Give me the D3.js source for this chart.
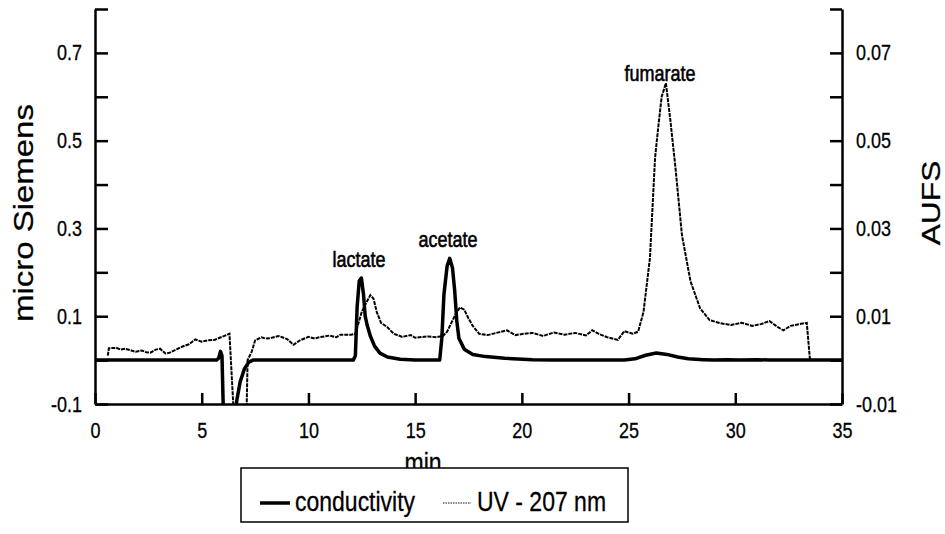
<!DOCTYPE html>
<html>
<head>
<meta charset="utf-8">
<script src="https://cdn.jsdelivr.net/npm/d3@7"></script>
<style>
  body { margin: 0; background: #fff; }
  svg { font-family: "Liberation Sans", Arial, sans-serif; }
  text { fill: #000; stroke: #000; stroke-width: 0.25px; }
</style>
</head>
<body>
<svg id="chart" width="945" height="534"></svg>
<script>
const width = 945;
const height = 534;

// conductivity trace, [min, micro Siemens]
const conductivity = [
  [0, 0], [5.7, 0], [5.8, 0.005], [5.88, 0.02], [5.95, 0.01], [6.02, -0.13],
  [6.55, -0.13], [6.65, -0.09], [6.8, -0.05], [7.0, -0.02], [7.2, -0.005], [7.4, 0],
  [12.1, 0], [12.2, 0.01], [12.28, 0.12], [12.38, 0.18], [12.48, 0.187], [12.58, 0.15],
  [12.66, 0.1], [12.75, 0.08], [12.9, 0.055], [13.1, 0.032], [13.35, 0.016],
  [13.7, 0.007], [14.3, 0.002], [15, 0],
  [16.15, 0], [16.25, 0.05], [16.35, 0.15], [16.5, 0.215], [16.62, 0.232], [16.75, 0.21],
  [16.85, 0.16], [16.95, 0.09], [17.05, 0.05], [17.3, 0.025], [17.7, 0.013],
  [18.3, 0.008], [19.2, 0.004], [20.5, 0.001], [21.5, 0],
  [24.8, 0], [25.3, 0.003], [25.8, 0.011], [26.3, 0.016], [26.8, 0.013], [27.3, 0.007],
  [27.8, 0.003], [28.5, 0.001], [29, 0], [29.6, 0.001], [30.2, 0], [31, 0.001], [31.6, 0], [35, 0]
];

// UV 207 nm trace, [min, AUFS]
const uv = [
  [0.6, 0.001], [0.65, 0.0027], [1.0, 0.0028], [1.2, 0.0024], [1.4, 0.0026], [1.7, 0.0022],
  [1.9, 0.0019], [2.2, 0.0022], [2.4, 0.0018], [2.6, 0.0017], [2.85, 0.0024], [3.05, 0.0026],
  [3.3, 0.0015], [3.5, 0.0017], [3.8, 0.0024], [4.1, 0.0031], [4.4, 0.0036], [4.7, 0.0047],
  [5.0, 0.0042], [5.3, 0.0045], [5.6, 0.0046], [5.9, 0.0052], [6.2, 0.0058], [6.3, 0.006],
  [6.5, -0.012], [7.1, -0.012], [7.15, 0.0], [7.35, 0.002], [7.5, 0.0045], [7.8, 0.0052],
  [8.0, 0.0049], [8.2, 0.005], [8.6, 0.0055], [9.0, 0.0048], [9.3, 0.0035], [9.6, 0.0045],
  [10.0, 0.0053], [10.3, 0.0049], [10.5, 0.0052], [11.0, 0.0056], [11.3, 0.0052], [11.5, 0.0058],
  [12.0, 0.0058], [12.2, 0.006], [12.35, 0.0085], [12.5, 0.011], [12.7, 0.013], [12.9, 0.0148],
  [13.05, 0.014], [13.2, 0.011], [13.4, 0.0085], [13.7, 0.0075], [14.0, 0.006], [14.4, 0.0053],
  [14.8, 0.0057], [15.0, 0.0051], [15.2, 0.0052], [15.6, 0.0054], [16.0, 0.0052], [16.3, 0.0055],
  [16.5, 0.0065], [16.7, 0.0085], [16.9, 0.0105], [17.1, 0.012], [17.3, 0.0115], [17.5, 0.0095],
  [17.7, 0.0078], [18.0, 0.006], [18.4, 0.0057], [18.8, 0.0062], [19.3, 0.0068], [19.7, 0.0057],
  [20.1, 0.006], [20.5, 0.0062], [21.0, 0.0055], [21.5, 0.0063], [22.0, 0.0058], [22.5, 0.0062],
  [23.0, 0.0056], [23.3, 0.0068], [23.6, 0.006], [24.0, 0.0052], [24.5, 0.0046], [24.8, 0.0066],
  [25.2, 0.006], [25.45, 0.0065], [25.7, 0.011], [26.0, 0.0232], [26.24, 0.046], [26.4, 0.0535],
  [26.55, 0.06], [26.75, 0.0631], [26.95, 0.055], [27.2, 0.0437], [27.5, 0.0285], [27.9, 0.018],
  [28.35, 0.0118], [28.8, 0.0091], [29.3, 0.0084], [29.8, 0.008], [30.3, 0.0085], [30.8, 0.0078],
  [31.2, 0.0082], [31.6, 0.0089], [32.0, 0.0075], [32.25, 0.0068], [32.6, 0.0078], [33.0, 0.0082],
  [33.35, 0.0085], [33.5, 0.0]
];

const xTicks = [0, 5, 10, 15, 20, 25, 30, 35];
const leftTicks = [-0.1, 0, 0.1, 0.2, 0.3, 0.4, 0.5, 0.6, 0.7, 0.8];
const leftLabels = ["-0.1", "", "0.1", "", "0.3", "", "0.5", "", "0.7", ""];
const rightTicks = [-0.01, 0, 0.01, 0.02, 0.03, 0.04, 0.05, 0.06, 0.07, 0.08];
const rightLabels = ["-0.01", "", "0.01", "", "0.03", "", "0.05", "", "0.07", ""];

const peaks = [
  { name: "lactate", t: 12.37, v: 0.212, axis: "left" },
  { name: "acetate", t: 16.54, v: 0.258, axis: "left" },
  { name: "fumarate", t: 26.47, v: 0.0636, axis: "right" }
];

const stretch = 1.22; // the scanned figure's text is taller than it is wide

const svg = d3.select("#chart");

const x = d3.scaleLinear().domain([0, 35]).range([95, 842]);
const yL = d3.scaleLinear().domain([-0.1, 0.8]).range([404, 9]);
const yR = d3.scaleLinear().domain([-0.01, 0.08]).range([404, 9]);

// move x/y of a text into a transform so it can be stretched
function tallText(sel) {
  sel.each(function () {
    const t = d3.select(this);
    const tx = +t.attr("x") || 0;
    const ty = +t.attr("y") || 0;
    t.attr("x", 0).attr("y", 0)
      .attr("transform", `translate(${tx},${ty}) scale(1,${stretch})`);
  });
}

svg.append("defs").append("clipPath").attr("id", "plot")
  .append("rect").attr("x", 95).attr("y", 9).attr("width", 747).attr("height", 395);

const plot = svg.append("g").attr("clip-path", "url(#plot)");

// UV line (dotted)
plot.append("path")
  .datum(uv)
  .attr("fill", "none")
  .attr("stroke", "#000")
  .attr("stroke-width", 2)
  .attr("stroke-dasharray", "4,1")
  .attr("d", d3.line().x(d => x(d[0])).y(d => yR(d[1])));

// conductivity line (thick)
plot.append("path")
  .datum(conductivity)
  .attr("fill", "none")
  .attr("stroke", "#000")
  .attr("stroke-width", 3.5)
  .attr("stroke-linejoin", "round")
  .attr("d", d3.line().x(d => x(d[0])).y(d => yL(d[1])));

// axes
const leftAxis = svg.append("g")
  .attr("transform", "translate(95,0)")
  .call(d3.axisLeft(yL).tickValues(leftTicks).tickSize(-13).tickSizeOuter(0).tickPadding(13)
    .tickFormat((d, i) => leftLabels[i]));

const rightAxis = svg.append("g")
  .attr("transform", "translate(842,0)")
  .call(d3.axisRight(yR).tickValues(rightTicks).tickSize(-12).tickSizeOuter(0).tickPadding(14)
    .tickFormat((d, i) => rightLabels[i]));

const bottomAxis = svg.append("g")
  .attr("transform", "translate(0,404)")
  .call(d3.axisBottom(x).tickValues(xTicks).tickSize(-11).tickSizeOuter(0).tickPadding(18)
    .tickFormat(d3.format("d")));

[leftAxis, rightAxis, bottomAxis].forEach(g => {
  g.selectAll("path.domain").attr("stroke", "#000").attr("stroke-width", 2.5);
  g.selectAll(".tick line").attr("stroke", "#000").attr("stroke-width", 2.5);
  g.selectAll(".tick text").style("font-size", "18px").call(tallText);
});

// peak names
svg.selectAll("text.peak")
  .data(peaks)
  .enter()
  .append("text")
  .attr("class", "peak")
  .attr("x", d => x(d.t))
  .attr("y", d => (d.axis === "left" ? yL(d.v) : yR(d.v)))
  .attr("text-anchor", "middle")
  .style("font-size", "18px")
  .style("stroke-width", "0.5px")
  .text(d => d.name)
  .call(tallText);

// axis titles
svg.append("text")
  .attr("transform", `translate(33,213) rotate(-90) scale(${stretch},1)`)
  .attr("text-anchor", "middle")
  .style("font-size", "27px")
  .text("micro Siemens");

svg.append("text")
  .attr("transform", `translate(940,203) rotate(-90) scale(${stretch},1)`)
  .attr("text-anchor", "middle")
  .style("font-size", "26px")
  .text("AUFS");

svg.append("text")
  .attr("x", 423)
  .attr("y", 472)
  .attr("text-anchor", "middle")
  .style("font-size", "23px")
  .text("min")
  .call(tallText);

// legend
const legend = svg.append("g");
legend.append("rect")
  .attr("x", 241).attr("y", 468).attr("width", 387).attr("height", 54)
  .attr("fill", "#fff").attr("stroke", "#000").attr("stroke-width", 1.5);

legend.append("line")
  .attr("x1", 260).attr("x2", 290).attr("y1", 503).attr("y2", 503)
  .attr("stroke", "#000").attr("stroke-width", 3.5);
legend.append("text")
  .attr("x", 295).attr("y", 511)
  .style("font-size", "23px")
  .text("conductivity")
  .call(tallText);

legend.append("line")
  .attr("x1", 443).attr("x2", 471).attr("y1", 503).attr("y2", 503)
  .attr("stroke", "#111").attr("stroke-width", 1.2).attr("stroke-dasharray", "1.5,1");
legend.append("text")
  .attr("x", 477).attr("y", 511)
  .style("font-size", "23px")
  .text("UV - 207 nm")
  .call(tallText);
</script>
</body>
</html>
